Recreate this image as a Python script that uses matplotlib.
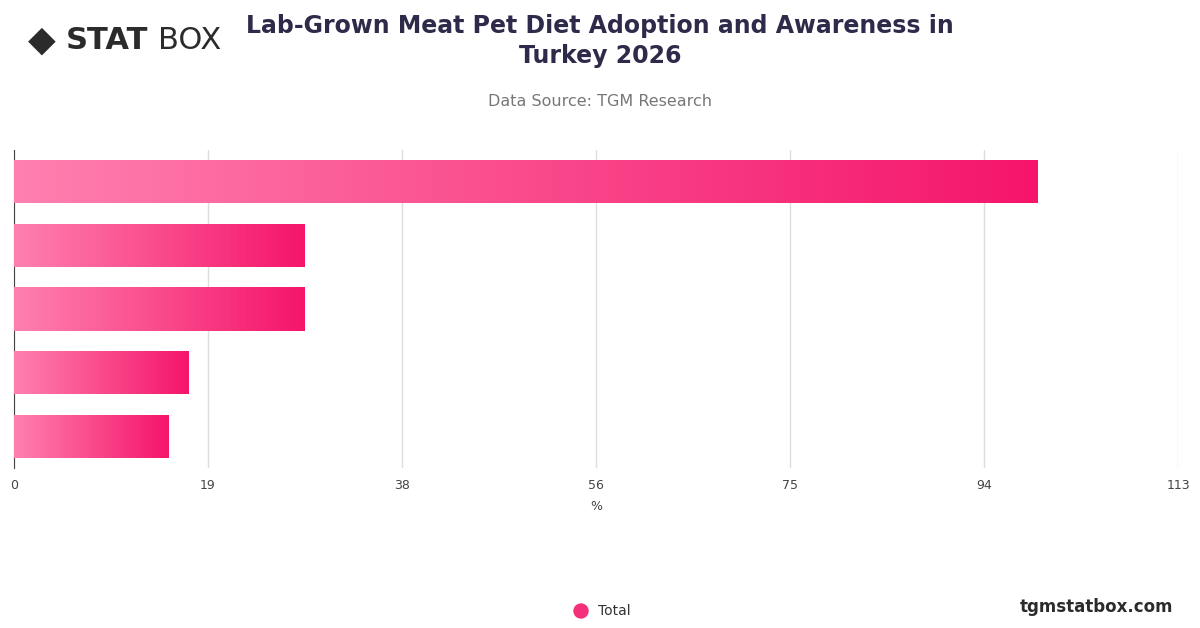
import numpy as np
import matplotlib.pyplot as plt
from matplotlib.colors import LinearSegmentedColormap
from matplotlib.patches import Rectangle, Circle

values = [99.4, 28.2, 28.2, 16.9, 15.0]
axis_max = 113
tick_vals = [axis_max * i / 6 for i in range(7)]
tick_labels = [str(round(v)) for v in tick_vals]

fig = plt.figure(figsize=(12, 6.28), dpi=100)
ax = fig.add_axes([14/1200, 1 - 468/628, 1164/1200, (468-150)/628])
cmap = LinearSegmentedColormap.from_list("pink", ["#ff80b0", "#f5156a"])
grad = np.linspace(0, 1, 256).reshape(1, -1)

n = len(values)
for i, v in enumerate(values):
    y = n - 1 - i
    im = ax.imshow(grad, cmap=cmap, aspect="auto", extent=[0, v, y - 0.34, y + 0.34], zorder=3)
    r = Rectangle((0, y - 0.34), v, 0.68, transform=ax.transData, fill=False, lw=0)
    ax.add_patch(r)
    im.set_clip_path(r)

ax.set_xlim(0, axis_max)
ax.set_ylim(-0.5, n - 0.5)
ax.set_xticks(tick_vals)
ax.set_xticklabels(tick_labels, fontsize=9, color="#444444")
ax.set_yticks([])
ax.grid(axis="x", color="#dddddd", lw=1, zorder=0)
for s in ["top", "right", "bottom"]:
    ax.spines[s].set_visible(False)
ax.spines["left"].set_color("#444444")
ax.tick_params(axis="x", length=0, pad=8)
ax.set_xlabel("%", fontsize=9, color="#444444", labelpad=6)

fig.text(0.5, 0.935, "Lab-Grown Meat Pet Diet Adoption and Awareness in\nTurkey 2026",
         ha="center", va="center", fontsize=17, fontweight="bold", color="#2e2a4a", linespacing=1.3)
fig.text(0.5, 0.838, "Data Source: TGM Research", ha="center", va="center", fontsize=11.5, color="#777777")
fig.text(0.055, 0.935, "STAT", ha="left", va="center", fontsize=22, fontweight="bold", color="#2b2b2b")
fig.text(0.132, 0.935, "BOX", ha="left", va="center", fontsize=22, color="#2b2b2b")
fig.text(0.035, 0.935, "◆", ha="center", va="center", fontsize=26, color="#2b2b2b")
fig.text(0.978, 0.033, "tgmstatbox.com", ha="right", va="center", fontsize=12, fontweight="bold", color="#2b2b2b")
fig.patches.append(Circle((581, 17), 7, transform=None, color="#f5307a"))
fig.text(0.498, 0.027, "Total", ha="left", va="center", fontsize=10, color="#333333")

fig.savefig("out.png", dpi=100)
